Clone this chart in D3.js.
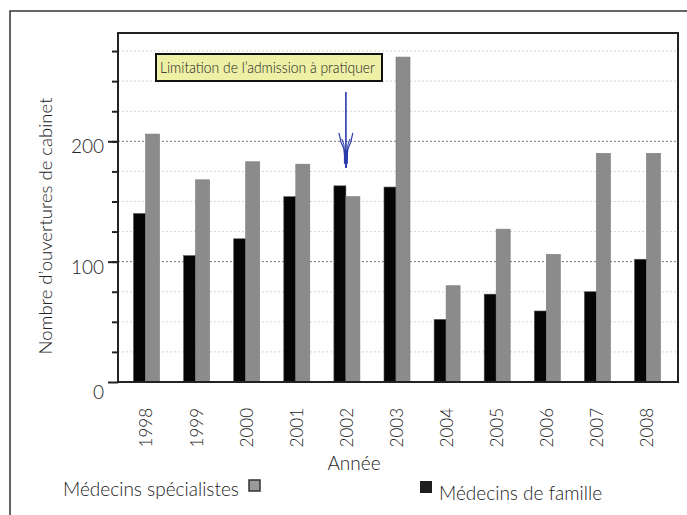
<!DOCTYPE html>
<html><head><meta charset="utf-8">
<script src="https://cdn.jsdelivr.net/npm/d3@7"></script>
<style>
html,body{margin:0;padding:0;background:#fff;}
svg{display:block;font-family:Lato, "Noto Sans", sans-serif;font-weight:300;}
</style></head>
<body>
<svg id="chart" width="687" height="515"></svg>
<script>
const years = ["1998","1999","2000","2001","2002","2003","2004","2005","2006","2007","2008"];
const specialistes = [206,168,183,181,154,270,80,127,106,190,190];
const famille = [140,105,119,154,163,162,52,73,59,75,102];
const majorTicks = [0,100,200];
const minorTicks = d3.range(25,300,25);
const yTitle = "Nombre d\u2019ouvertures de cabinet";
const xTitle = "Année";
const legendLabels = ["Médecins spécialistes","Médecins de famille"];
const annotationText = "Limitation de l\u2019admission à pratiquer";
const annotationYear = "2002";

const svg = d3.select("#chart");
const pLeft = 118, pRight = 678, pTop = 33, pBottom = 382;
const textCol = "#222";

const x = d3.scalePoint().domain(years).range([145.5, 646.5]);
const y = d3.scaleLinear().domain([0, 290]).range([pBottom, pTop]);

// outer frame
svg.append("rect").attr("x",10).attr("y",11).attr("width",700).attr("height",520)
  .attr("fill","none").attr("stroke","#333").attr("stroke-width",1.5);

// gridlines
svg.append("g").selectAll("line").data(minorTicks.filter(v=>!majorTicks.includes(v))).join("line")
  .attr("x1",pLeft).attr("x2",pRight).attr("y1",d=>y(d)).attr("y2",d=>y(d))
  .attr("stroke","#d4d4d4").attr("stroke-width",1).attr("stroke-dasharray","2,2");
svg.append("g").selectAll("line").data(majorTicks.filter(v=>v>0)).join("line")
  .attr("x1",pLeft).attr("x2",pRight).attr("y1",d=>y(d)).attr("y2",d=>y(d))
  .attr("stroke","#777").attr("stroke-width",1).attr("stroke-dasharray","2,2");

// bars
const bw = 12, gw = 14;
svg.append("g").selectAll("rect").data(years).join("rect")
  .attr("x",d=>x(d)-bw).attr("width",bw)
  .attr("y",(d,i)=>y(famille[i])).attr("height",(d,i)=>y(0)-y(famille[i]))
  .attr("fill","#050505").attr("stroke","#555").attr("stroke-width",0.6);
svg.append("g").selectAll("rect").data(years).join("rect")
  .attr("x",d=>x(d)).attr("width",gw)
  .attr("y",(d,i)=>y(specialistes[i])).attr("height",(d,i)=>y(0)-y(specialistes[i]))
  .attr("fill","#8b8b8b").attr("stroke","#7a7a7a").attr("stroke-width",0.6);

// plot frame
svg.append("rect").attr("x",pLeft).attr("y",pTop).attr("width",pRight-pLeft).attr("height",pBottom-pTop)
  .attr("fill","none").attr("stroke","#222").attr("stroke-width",2);

// y axis ticks
const yAxisMinor = d3.axisLeft(y).tickValues(minorTicks).tickSize(6).tickFormat("");
const gm = svg.append("g").attr("transform",`translate(${pLeft},0)`).call(yAxisMinor);
gm.select(".domain").remove();
gm.selectAll("line").attr("stroke","#222").attr("stroke-width",2);
const yAxisMajor = d3.axisLeft(y).tickValues(majorTicks).tickSize(10).tickPadding(4).tickFormat(d3.format("d"));
const gM = svg.append("g").attr("transform",`translate(${pLeft},0)`).call(yAxisMajor);
gM.select(".domain").remove();
gM.selectAll("line").attr("stroke","#222").attr("stroke-width",2);
gM.selectAll("text").attr("font-size",19).attr("fill",textCol).attr("font-family","Lato, sans-serif")
  .attr("font-weight",300).attr("dy",d=>d===0?"0.85em":"0.6em");

// x labels
svg.append("g").selectAll("text").data(years).join("text")
  .attr("transform",d=>`translate(${x(d)+1},408) rotate(-90)`)
  .attr("text-anchor","end").attr("dy","0.35em")
  .attr("font-size",17).attr("fill",textCol).text(d=>d);

// axis titles
svg.append("text").attr("x",354).attr("y",470).attr("text-anchor","middle")
  .attr("font-size",19).attr("fill",textCol).text(xTitle);
svg.append("text").attr("transform","translate(46,226) rotate(-90)")
  .attr("text-anchor","middle").attr("dy","0.35em")
  .attr("font-size",18.5).attr("fill",textCol).text(yTitle);

// legend
svg.append("text").attr("x",63).attr("y",496).attr("font-size",19).attr("fill",textCol).text(legendLabels[0]);
svg.append("rect").attr("x",249).attr("y",480).attr("width",11).attr("height",11)
  .attr("fill","#9a9a9a").attr("stroke","#333").attr("stroke-width",1.5);
svg.append("rect").attr("x",420).attr("y",481).attr("width",12).attr("height",12)
  .attr("fill","#1e1e1e");
svg.append("text").attr("x",439).attr("y",500).attr("font-size",19).attr("fill",textCol).text(legendLabels[1]);

// annotation box
svg.append("rect").attr("x",156).attr("y",54).attr("width",226).attr("height",27)
  .attr("fill","#eef0a6").attr("stroke","#111").attr("stroke-width",2);
svg.append("text").attr("x",160).attr("y",72.5).attr("font-size",15).attr("fill","#222")
  .attr("textLength",215).attr("lengthAdjust","spacingAndGlyphs").text(annotationText);

// arrow
const ax = x(annotationYear);
const aTop = y(241), aTip = y(178), aHead = y(207);
const ag = svg.append("g").attr("stroke","#2b3aa8").attr("fill","none");
ag.append("line").attr("x1",ax).attr("x2",ax).attr("y1",aTop).attr("y2",aTip).attr("stroke-width",1.6);
ag.append("path").attr("d",`M${ax-7},${aHead} L${ax-6},${aHead+4} L${ax-5},${aHead+9} L${ax-2},${aHead+16} L${ax},${aTip}`).attr("stroke-width",1.2);
ag.append("path").attr("d",`M${ax+7},${aHead} L${ax+6},${aHead+4} L${ax+5},${aHead+9} L${ax+2},${aHead+16} L${ax},${aTip}`).attr("stroke-width",1.2);
ag.append("path").attr("d",`M${ax-4},${aHead+6} L${ax-2},${aHead+12} L${ax},${aTip}`).attr("stroke-width",1);
ag.append("path").attr("d",`M${ax+4},${aHead+6} L${ax+2},${aHead+12} L${ax},${aTip}`).attr("stroke-width",1);
ag.append("line").attr("x1",ax).attr("x2",ax).attr("y1",aHead+17).attr("y2",aTip-4).attr("stroke-width",4);
</script>
</body></html>
